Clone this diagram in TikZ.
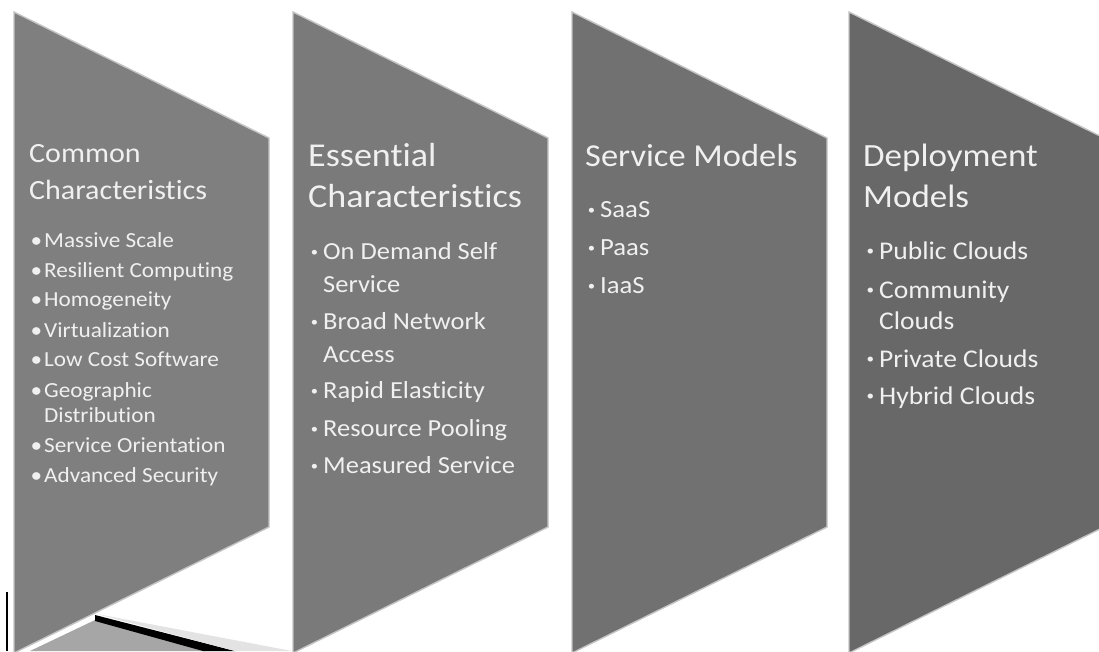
\documentclass[tikz,border=0pt]{standalone}
\usepackage{fontspec}
\setmainfont{Carlito}[FakeStretch=1.08, Ligatures=NoCommon]
\usepackage{tikz}
\definecolor{panelA}{HTML}{7F7F7F}
\definecolor{panelB}{HTML}{7A7A7A}
\definecolor{panelC}{HTML}{717171}
\definecolor{panelD}{HTML}{686868}
\definecolor{edge}{HTML}{C4C4C4}
\definecolor{ink}{HTML}{F0F0F0}
\newcommand{\itembig}{\llap{\textbullet\hspace{2pt}}}
\newcommand{\itemsmall}{\llap{\raisebox{0.12em}{\scalebox{0.55}{\textbullet}}\hspace{5pt}}}

\begin{document}
\begin{tikzpicture}[x=1pt, y=-1pt,
    panel/.style={draw=edge, line width=1.4pt, line join=miter},
    head/.style={anchor=base west, inner sep=0pt, text=ink, font=\fontsize{#1}{#1}\selectfont},
    entry/.style={anchor=base west, inner sep=0pt, text=ink, font=\fontsize{#1}{#1}\selectfont}]
  \useasboundingbox (0,0) rectangle (1099,651);
  \clip (0,0) rectangle (1099,651);

  % bar peeking out under the first panel
  \fill[gray!70] (30,651) -- (95,620) -- (205,651) -- cycle;
  \fill[black] (95,615) -- (235,651) -- (203,651) -- (95,621) -- cycle;
  \fill[gray!22] (97,614) -- (292,651) -- (235,651) -- cycle;
  \draw[line width=2pt] (7,592) -- (7,651);

  \filldraw[panel, fill=panelA] (14,12) -- (269,138) -- (269,527) -- (14,653) -- cycle;
  \filldraw[panel, fill=panelB] (293,12) -- (548,138) -- (548,527) -- (293,653) -- cycle;
  \filldraw[panel, fill=panelC] (572,12) -- (827,138) -- (827,527) -- (572,653) -- cycle;
  \filldraw[panel, fill=panelD] (849,12) -- (1104,138) -- (1104,527) -- (849,653) -- cycle;

  \node[head=27.8] (h1a) at (29,162) {Common};
  \node[head=27.8] (h1b) at (29,199) {Characteristics};
  \node[entry=21.5] (c1) at (44,247) {\itembig Massive Scale};
  \node[entry=21.5] (c2) at (44,277) {\itembig Resilient Computing};
  \node[entry=21.5] (c3) at (44,306) {\itembig Homogeneity};
  \node[entry=21.5] (c4) at (44,337) {\itembig Virtualization};
  \node[entry=21.5] (c5) at (44,366) {\itembig Low Cost Software};
  \node[entry=21.5] (c6) at (44,397) {\itembig Geographic};
  \node[entry=21.5] (c6b) at (44,422) {Distribution};
  \node[entry=21.5] (c7) at (44,452) {\itembig Service Orientation};
  \node[entry=21.5] (c8) at (44,482) {\itembig Advanced Security};

  \node[head=33.4] (h2a) at (308,166) {Essential};
  \node[head=33.4] (h2b) at (308,207) {Characteristics};
  \node[entry=24.5] (e1) at (323,259) {\itemsmall On Demand Self};
  \node[entry=24.5] (e1b) at (323,292) {Service};
  \node[entry=24.5] (e2) at (323,329) {\itemsmall Broad Network};
  \node[entry=24.5] (e2b) at (323,362) {Access};
  \node[entry=24.5] (e3) at (323,398) {\itemsmall Rapid Elasticity};
  \node[entry=24.5] (e4) at (323,436) {\itemsmall Resource Pooling};
  \node[entry=24.5] (e5) at (323,473) {\itemsmall Measured Service};

  \node[head=31.9] (h3) at (585,166) {Service Models};
  \node[entry=24.7] (s1) at (600,217) {\itemsmall SaaS};
  \node[entry=24.7] (s2) at (600,255) {\itemsmall Paas};
  \node[entry=24.7] (s3) at (600,293) {\itemsmall IaaS};

  \node[head=32.4] (h4a) at (863,166) {Deployment};
  \node[head=32.4] (h4b) at (863,207) {Models};
  \node[entry=25.5] (d1) at (879,259) {\itemsmall Public Clouds};
  \node[entry=25.5] (d2) at (879,298) {\itemsmall Community};
  \node[entry=25.5] (d2b) at (879,329) {Clouds};
  \node[entry=25.5] (d3) at (879,367) {\itemsmall Private Clouds};
  \node[entry=25.5] (d4) at (879,404) {\itemsmall Hybrid Clouds};
\end{tikzpicture}
\end{document}
